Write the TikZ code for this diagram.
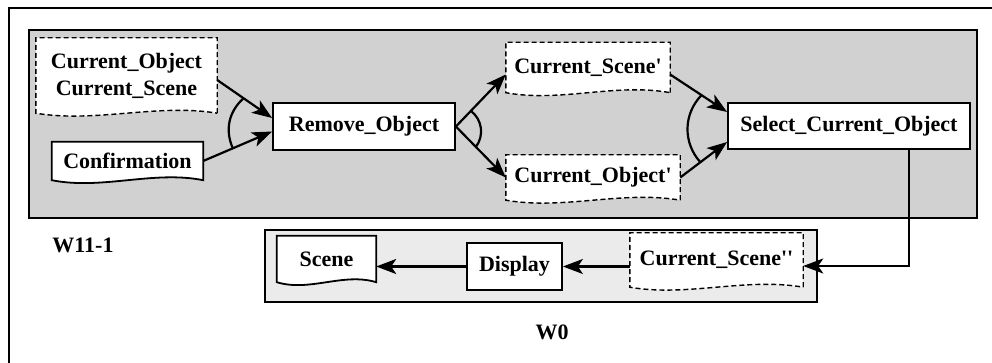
\documentclass[tikz,border=0pt]{standalone}
\usepackage{fontspec}
\setmainfont{Liberation Serif}
\usetikzlibrary{arrows.meta,calc}
\pgfdeclarelayer{back}
\pgfdeclarelayer{mid}
\pgfsetlayers{back,mid,main}
% outline with a wavy bottom, drawn behind the named node
\newcommand{\docframe}[2][docline]{%
  \begin{pgfonlayer}{mid}
    \draw[#1] (#2.south east) -- (#2.north east) -- (#2.north west) -- (#2.south west)
      .. controls ($(#2.south west)!0.33!(#2.south east)+(0,-10)$)
      and ($(#2.south west)!0.67!(#2.south east)+(0,10)$) .. (#2.south east) -- cycle;
  \end{pgfonlayer}}
\begin{document}
\begin{tikzpicture}[x=1pt,y=1pt,
    font=\fontsize{22}{27}\selectfont\bfseries,
    proc/.style={draw,line width=1.8pt,fill=white,inner sep=0pt},
    docnode/.style={inner sep=0pt,align=center},
    docline/.style={line width=1.8pt,fill=white},
    dashline/.style={line width=1.4pt,dash pattern=on 5pt off 3pt,fill=white},
    flow/.style={line width=2.2pt,-{Stealth[length=20pt,width=15pt,inset=5pt]}},
    ring/.style={line width=2.2pt}]
    \useasboundingbox (0,0) rectangle (992,-363);
    \draw[line width=1.6pt] (9,-363) -- (9,-8) -- (992,-8);
    \begin{pgfonlayer}{back}
        \draw[line width=1.4pt,fill=black!18] (29,-30) rectangle (977,-218);
        \draw[line width=1.4pt,fill=black!8] (265,-230) rectangle (817,-302);
    \end{pgfonlayer}
    \node at (83,-245) {W11-1};
    \node at (552,-332) {W0};
    % W11-1
    \node[docnode,minimum width=181pt,minimum height=75pt] (inobj) at (126.5,-75.5)
        {Current\_Object\\Current\_Scene};
    \node[docnode,minimum width=151pt,minimum height=38pt] (confirm) at (127.5,-161) {Confirmation};
    \node[proc,minimum width=182pt,minimum height=47pt] (remove) at (364,-126.5) {Remove\_Object};
    \node[docnode,minimum width=164pt,minimum height=50pt] (scene1) at (588,-67.5) {Current\_Scene\textquotesingle};
    \node[docnode,minimum width=174pt,minimum height=45pt] (obj1) at (593,-177.5) {Current\_Object\textquotesingle};
    \node[proc,minimum width=242pt,minimum height=46pt] (select) at (849,-126) {Select\_Current\_Object};
    % W0
    \node[docnode,minimum width=99pt,minimum height=46pt] (scene2) at (326.5,-259) {Scene};
    \node[proc,minimum width=95pt,minimum height=47pt] (display) at (514.5,-266.5) {Display};
    \node[docnode,minimum width=173pt,minimum height=54pt] (scene3) at (716.5,-260)
        {Current\_Scene\textquotesingle\textquotesingle};
    \docframe[dashline]{inobj}
    \docframe{confirm}
    \docframe[dashline]{scene1}
    \docframe[dashline]{obj1}
    \docframe{scene2}
    \docframe[dashline]{scene3}
    % flows
    \draw[flow] ([yshift=-4.5pt]inobj.east) -- coordinate[pos=0.48] (a1) ([yshift=8.5pt]remove.west);
    \draw[flow] (confirm.east) -- coordinate[pos=0.43] (a2) ([yshift=-5pt]remove.west);
    \draw[ring] (a1) to[bend right=36] (a2);
    \draw[flow] (remove.east) -- coordinate[pos=0.3] (b1) ([yshift=-7pt]scene1.west);
    \draw[flow] (remove.east) -- coordinate[pos=0.4] (b2) (obj1.west);
    \draw[ring] (b1) to[bend left=45] (b2);
    \draw[flow] ([yshift=-7pt]scene1.east) -- coordinate[pos=0.55] (c1) ([yshift=14pt]select.west);
    \draw[flow] (obj1.east) -- coordinate[pos=0.43] (c2) ([yshift=-16pt]select.west);
    \draw[ring] (c1) to[bend right=43] (c2);
    \draw[flow,line width=1.8pt] ([xshift=60pt]select.south) |- ([yshift=-6pt]scene3.east);
    \draw[flow] (scene3.west |- display.east) -- (display.east);
    \draw[flow] (display.west) -- (scene2.east |- display.west);
\end{tikzpicture}
\end{document}
